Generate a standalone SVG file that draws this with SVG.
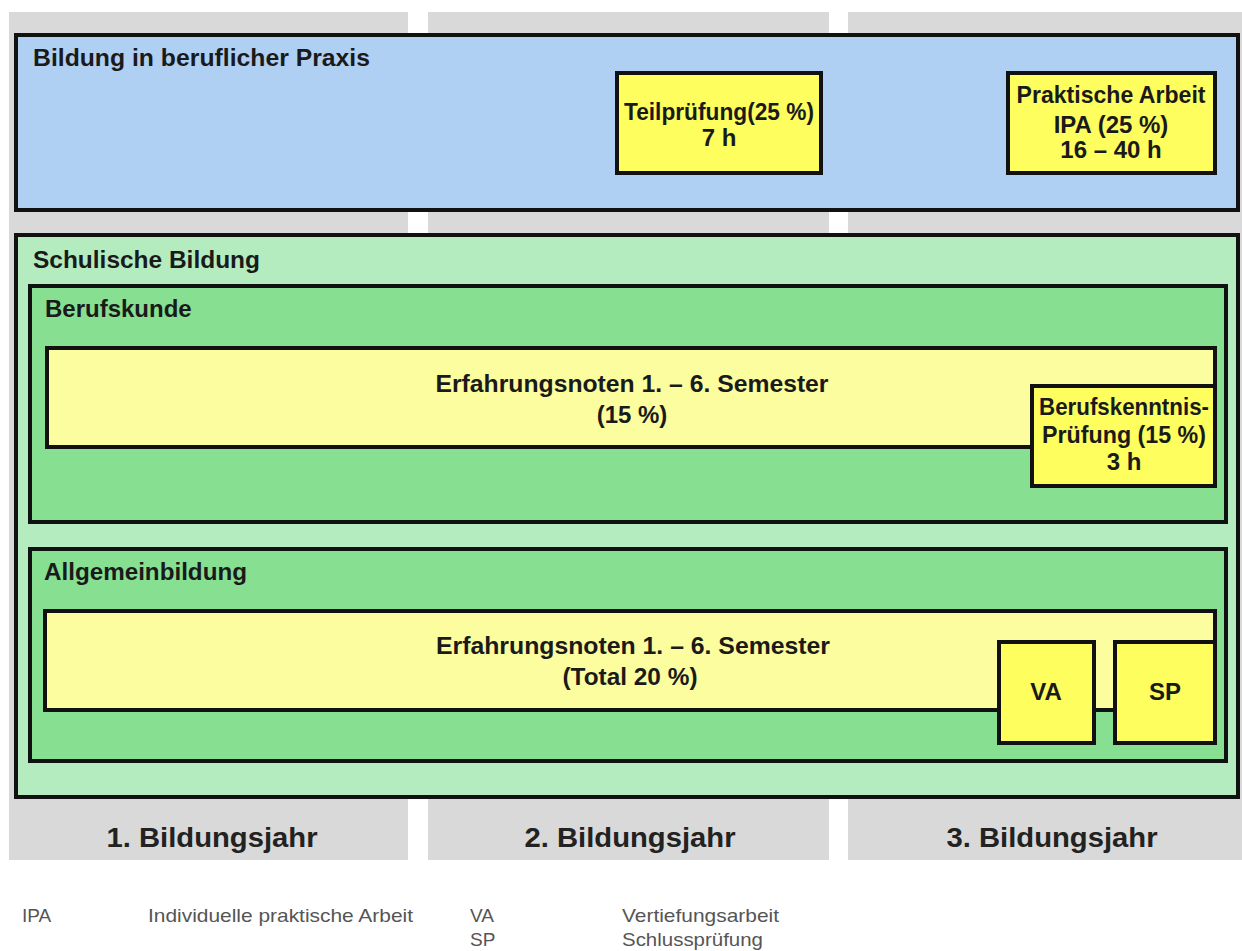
<svg xmlns="http://www.w3.org/2000/svg" width="1242" height="951" viewBox="0 0 1242 951">
<style>
.col{fill:#d9d9d9}
.box{stroke:#111;stroke-width:4}
.blue{fill:#afd0f3}
.lg{fill:#b4ecc0}
.mg{fill:#87df92}
.py{fill:#fbfd9e}
.by{fill:#fefe5e}
.h{font-family:"Liberation Sans",Arial,sans-serif;font-weight:bold;font-size:24px;fill:#1a1a1a}
.c{font-family:"Liberation Sans",Arial,sans-serif;font-weight:bold;font-size:24px;fill:#1a1a1a;text-anchor:middle}
.y{font-family:"Liberation Sans",Arial,sans-serif;font-weight:bold;font-size:28px;fill:#222;text-anchor:middle}
.l{font-family:"Liberation Sans",Arial,sans-serif;font-size:19px;fill:#555}
</style>
<rect width="1242" height="951" fill="#ffffff"/>
<g id="columns">
<rect class="col" x="9" y="12" width="399" height="848"/>
<rect class="col" x="428" y="12" width="401" height="848"/>
<rect class="col" x="848" y="12" width="394" height="848"/>
</g>
<g id="praxis">
<rect class="box blue" x="16" y="35" width="1222" height="175"/>
<text class="h" x="33" y="66" textLength="337" lengthAdjust="spacingAndGlyphs">Bildung in beruflicher Praxis</text>
</g>
<g id="teilpruefung">
<rect class="box by" x="617" y="73" width="204" height="100"/>
<text class="c" x="719" y="120" textLength="190" lengthAdjust="spacingAndGlyphs">Teilprüfung(25 %)</text>
<text class="c" x="719" y="146">7 h</text>
</g>
<g id="ipa">
<rect class="box by" x="1008" y="73" width="207" height="100"/>
<text class="c" x="1111" y="103" textLength="189" lengthAdjust="spacingAndGlyphs">Praktische Arbeit</text>
<text class="c" x="1111" y="133">IPA (25 %)</text>
<text class="c" x="1111" y="158">16 – 40 h</text>
</g>
<g id="schulisch">
<rect class="box lg" x="16" y="235" width="1222" height="562"/>
<text class="h" x="33" y="268" textLength="227" lengthAdjust="spacingAndGlyphs">Schulische Bildung</text>
</g>
<g id="berufskunde">
<rect class="box mg" x="30" y="286" width="1196" height="236"/>
<text class="h" x="45" y="317">Berufskunde</text>
</g>
<g id="erfahrung1">
<rect class="box py" x="47" y="348" width="1168" height="99"/>
<text class="c" x="632" y="392" textLength="393" lengthAdjust="spacingAndGlyphs">Erfahrungsnoten 1. – 6. Semester</text>
<text class="c" x="632" y="423">(15 %)</text>
</g>
<g id="berufskenntnis">
<rect class="box by" x="1032" y="386" width="183" height="100"/>
<text class="c" x="1124" y="415" textLength="170" lengthAdjust="spacingAndGlyphs">Berufskenntnis-</text>
<text class="c" x="1124" y="443" textLength="164" lengthAdjust="spacingAndGlyphs">Prüfung (15 %)</text>
<text class="c" x="1124" y="470">3 h</text>
</g>
<g id="allgemeinbildung">
<rect class="box mg" x="30" y="549" width="1196" height="212"/>
<text class="h" x="44" y="580" textLength="203" lengthAdjust="spacingAndGlyphs">Allgemeinbildung</text>
</g>
<g id="erfahrung2">
<rect class="box py" x="45" y="611" width="1170" height="99"/>
<text class="c" x="633" y="654" textLength="394" lengthAdjust="spacingAndGlyphs">Erfahrungsnoten 1. – 6. Semester</text>
<text class="c" x="630" y="685" textLength="135" lengthAdjust="spacingAndGlyphs">(Total 20 %)</text>
</g>
<g id="va">
<rect class="box by" x="999" y="642" width="95" height="101"/>
<text class="c" x="1046" y="700">VA</text>
</g>
<g id="sp">
<rect class="box by" x="1115" y="642" width="100" height="101"/>
<text class="c" x="1165" y="700">SP</text>
</g>
<g id="years">
<text class="y" x="212" y="847" textLength="211" lengthAdjust="spacingAndGlyphs">1. Bildungsjahr</text>
<text class="y" x="630" y="847" textLength="211" lengthAdjust="spacingAndGlyphs">2. Bildungsjahr</text>
<text class="y" x="1052" y="847" textLength="211" lengthAdjust="spacingAndGlyphs">3. Bildungsjahr</text>
</g>
<g id="legend">
<text class="l" x="22" y="922">IPA</text>
<text class="l" x="148" y="922" textLength="265" lengthAdjust="spacingAndGlyphs">Individuelle praktische Arbeit</text>
<text class="l" x="470" y="922">VA</text>
<text class="l" x="470" y="946">SP</text>
<text class="l" x="622" y="922" textLength="157" lengthAdjust="spacingAndGlyphs">Vertiefungsarbeit</text>
<text class="l" x="622" y="946" textLength="141" lengthAdjust="spacingAndGlyphs">Schlussprüfung</text>
</g>
</svg>
